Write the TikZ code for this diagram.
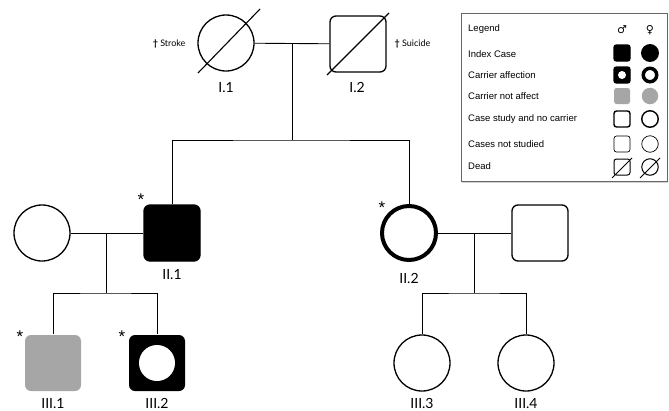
\documentclass[tikz,border=0pt]{standalone}
\usepackage{fontspec}
\setmainfont{Liberation Sans}
\newfontfamily\labfont{Lato}
\newfontfamily\symfont{DejaVu Sans}
\usetikzlibrary{shadows}

\begin{document}
\begin{tikzpicture}[x=1pt, y=-1pt,
        male/.style={draw, rectangle, rounded corners=6pt, minimum size=56pt, inner sep=0pt, line width=1.3pt},
        female/.style={draw, circle, minimum size=56pt, inner sep=0pt, line width=1.3pt},
        lab/.style={anchor=base, inner sep=0pt, font=\labfont\fontsize{14}{14}\selectfont},
        note/.style={font=\labfont\fontsize{9}{9}\selectfont},
        star/.style={font=\fontsize{17}{17}\selectfont, inner sep=0pt},
        legtext/.style={anchor=west, font=\fontsize{9.5}{10}\selectfont, inner sep=0pt},
        lm/.style={draw, rectangle, rounded corners=2.5pt, minimum size=16pt, inner sep=0pt, line width=1.4pt},
        lf/.style={draw, circle, minimum size=16.5pt, inner sep=0pt, line width=1.4pt},
        carrier/.style={fill=black, path picture={\fill[white] (path picture bounding box.center) circle (#1);}},
        dead/.style={line width=1.1pt}]
        \useasboundingbox (0,0) rectangle (669,410);
        \definecolor{notaff}{HTML}{A6A6A6}

        \node[female] (I1) at (226,43) {};
        \node[male] (I2) at (358,44) {};
        \node[female] (IIa) at (42,233) {};
        \node[male, fill=black] (II1) at (172,233) {};
        \node[female, line width=4pt, minimum size=54pt] (II2) at (409,233) {};
        \node[male] (IIb) at (540,233) {};
        \node[male, draw=none, fill=notaff] (III1) at (53,363) {};
        \node[male, draw=none, carrier=18pt] (III2) at (157,363) {};
        \node[female] (III3) at (422,363) {};
        \node[female] (III4) at (526,363) {};

        \draw[dead] ([shift={(-28,30)}]I1.center) -- ([shift={(34,-34)}]I1.center);
        \draw[dead] ([shift={(-31,31)}]I2.center) -- ([shift={(31,-31)}]I2.center);

        \node[lab] (lI1) at (226,92) {I.1};
        \node[lab] (lI2) at (357,92) {I.2};
        \node[lab] (lII1) at (172,279) {II.1};
        \node[lab] (lII2) at (409,283) {II.2};
        \node[lab] (lIII1) at (53,408) {III.1};
        \node[lab] (lIII2) at (157,408) {III.2};
        \node[lab] (lIII3) at (422,408) {III.3};
        \node[lab] (lIII4) at (526,408) {III.4};

        \node[note, anchor=east] (stroke) at (189,44) {\textbf{†} Stroke};
        \node[note, anchor=west] (suicide) at (391,44) {\textbf{†} Suicide};

        \node[star] (st1) at (141,200) {*};
        \node[star] (st2) at (382,208) {*};
        \node[star] (st3) at (20,337) {*};
        \node[star] (st4) at (122,337) {*};

        \coordinate (m1) at (292,43);
        \coordinate (s1) at (292,140);
        \coordinate (m2) at (106,233);
        \coordinate (s2) at (106,293);
        \coordinate (m3) at (474,233);
        \coordinate (s3) at (474,293);

        \draw[line width=0.9pt] (I1) -- (I2);
        \draw[line width=0.9pt] (m1) -- (s1);
        \draw[line width=0.9pt] (II1.north) |- (s1) -| (II2.north);
        \draw[line width=0.9pt] (IIa) -- (II1);
        \draw[line width=0.9pt] (m2) -- (s2);
        \draw[line width=0.9pt] (III1.north) |- (s2) -| (III2.north);
        \draw[line width=0.9pt] (II2) -- (IIb);
        \draw[line width=0.9pt] (m3) -- (s3);
        \draw[line width=0.9pt] (III3.north) |- (s3) -| (III4.north);

        \draw[draw=black!60, line width=0.8pt, fill=white, drop shadow={opacity=0.35, shadow xshift=1pt, shadow yshift=-1.5pt}] (461,13) rectangle (667,181);

        \node[legtext] (tLeg) at (468,29) {Legend};
        \node[legtext] (tIdx) at (468,54) {Index Case};
        \node[legtext] (tCar) at (468,75) {Carrier affection};
        \node[legtext] (tNot) at (468,96) {Carrier not affect};
        \node[legtext] (tStu) at (468,119) {Case study and no carrier};
        \node[legtext] (tNst) at (468,144) {Cases not studied};
        \node[legtext] (tDead) at (468,166) {Dead};

        \node[font=\symfont\fontsize{11}{11}\selectfont] (sexM) at (622,30) {♂};
        \node[font=\symfont\fontsize{11}{11}\selectfont] (sexF) at (650,30) {♀};

        \node[lm, fill=black] (lgM1) at (622,53) {};
        \node[lf, fill=black] (lgF1) at (650,53) {};
        \node[lm, carrier=4pt] (lgM2) at (622,75) {};
        \node[lf, line width=3.5pt, minimum size=13.5pt] (lgF2) at (650,75) {};
        \node[lm, draw=none, fill=notaff] (lgM3) at (622,96) {};
        \node[lf, draw=none, fill=notaff] (lgF3) at (650,96) {};
        \node[lm] (lgM4) at (622,119) {};
        \node[lf] (lgF4) at (650,119) {};
        \node[lm, line width=0.7pt] (lgM5) at (622,144) {};
        \node[lf, line width=0.7pt] (lgF5) at (650,144) {};
        \node[lm, line width=1pt] (lgM6) at (622,167) {};
        \node[lf, line width=1pt] (lgF6) at (650,167) {};

        \draw[line width=1pt] ([shift={(-10,11)}]lgM6.center) -- ([shift={(10,-9)}]lgM6.center);
        \draw[line width=1pt] ([shift={(-10,11)}]lgF6.center) -- ([shift={(10,-9)}]lgF6.center);
    \end{tikzpicture}
\end{document}
